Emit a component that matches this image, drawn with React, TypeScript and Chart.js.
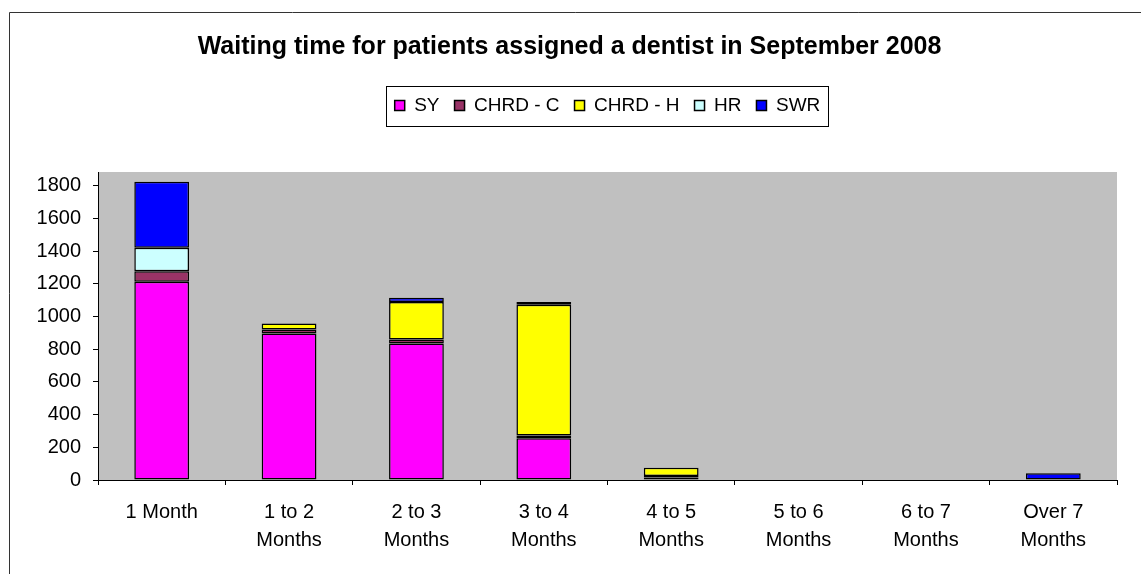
import React, { useEffect, useRef } from "react";
import { Chart, registerables } from "chart.js";

Chart.register(...registerables);

const TITLE = "Waiting time for patients assigned a dentist in September 2008";
const categories: (string | string[])[] = [
  "1 Month",
  ["1 to 2", "Months"],
  ["2 to 3", "Months"],
  ["3 to 4", "Months"],
  ["4 to 5", "Months"],
  ["5 to 6", "Months"],
  ["6 to 7", "Months"],
  ["Over 7", "Months"],
];
const seriesNames = ["SY", "CHRD - C", "CHRD - H", "HR", "SWR"];
const syValues = [1213, 896, 836, 255, 15, 0, 0, 0];
const chrdCValues = [64, 25, 24, 18, 10, 0, 0, 0];
const chrdHValues = [0, 37, 230, 800, 50, 0, 0, 0];
const hrValues = [144, 0, 0, 0, 0, 0, 0, 0];
const swrValues = [405, 0, 25, 17, 0, 0, 0, 42];
const seriesColors = ["#FF00FF", "#993366", "#FFFF00", "#CCFFFF", "#0000FF"];
const yTicks = [0, 200, 400, 600, 800, 1000, 1200, 1400, 1600, 1800];
const yMax = 1885;

const FONT = "'Liberation Sans', Arial, sans-serif";

export default function App() {
  const ref = useRef<HTMLCanvasElement | null>(null);
  useEffect(() => {
    if (!ref.current) return;
    const allValues = [syValues, chrdCValues, chrdHValues, hrValues, swrValues];
    const bgPlugin = {
      id: "bgPlugin",
      beforeDraw(chart: any) {
        const { ctx, chartArea } = chart;
        ctx.save();
        ctx.fillStyle = "#C0C0C0";
        ctx.fillRect(chartArea.left, chartArea.top, chartArea.right - chartArea.left, chartArea.bottom - chartArea.top);
        ctx.restore();
      },
      afterDraw(chart: any) {
        const { ctx } = chart;
        ctx.save();
        ctx.strokeStyle = "#333";
        ctx.lineWidth = 1;
        ctx.beginPath();
        ctx.moveTo(9.5, 574);
        ctx.lineTo(9.5, 12.5);
        ctx.lineTo(1141, 12.5);
        ctx.stroke();
        const lg = chart.legend;
        const hb = lg && lg.legendHitBoxes;
        if (hb && hb.length) {
          const first = hb[0];
          const last = hb[hb.length - 1];
          const l = Math.round(first.left - 9) + 0.5;
          const r = Math.round(last.left + last.width + 8) + 0.5;
          const t = Math.round(first.top - 10) + 0.5;
          const b = Math.round(first.top + first.height + 11) + 0.5;
          ctx.strokeStyle = "#000";
          ctx.strokeRect(l, t, r - l, b - t);
        }
        ctx.restore();
      },
    };
    const chart = new Chart(ref.current, {
      type: "bar",
      data: {
        labels: categories,
        datasets: seriesNames.map((name, i) => ({
          label: name,
          data: allValues[i].map((v) => (v === 0 ? null : v)),
          backgroundColor: seriesColors[i],
          borderColor: "#000",
          borderWidth: 1.5,
          borderSkipped: false,
          barPercentage: 0.43,
          categoryPercentage: 1,
        })),
      },
      options: {
        animation: false,
        responsive: false,
        devicePixelRatio: 1,
        layout: { padding: { top: 12, left: 22, right: 24, bottom: 0 } },
        plugins: {
          title: {
            display: true,
            text: TITLE,
            color: "#000",
            font: { family: FONT, size: 25, weight: "bold", lineHeight: 1.2 },
            padding: { top: 20.5, bottom: 18.5 },
          },
          legend: {
            display: true,
            fullSize: false,
            labels: {
              color: "#000",
              font: { family: FONT, size: 19 },
              boxWidth: 10,
              boxHeight: 10,
              padding: 15,
            },
          },
          subtitle: {
            display: true,
            text: "",
            fullSize: false,
            weight: 500,
            font: { size: 10, lineHeight: 1.2 },
            padding: { top: 35, bottom: 0 },
          } as any,
          tooltip: { enabled: false },
        },
        scales: {
          x: {
            stacked: true,
            grid: { display: true, drawOnChartArea: false, drawTicks: true, tickLength: 5, color: "#000", offset: true },
            border: { display: true, color: "#000", width: 1 },
            ticks: {
              color: "#000",
              font: { family: FONT, size: 20, lineHeight: 1.4 },
              padding: 13,
              maxRotation: 0,
              autoSkip: false,
            },
            afterFit(scale: any) {
              scale.height = 94;
            },
          },
          y: {
            stacked: true,
            min: 0,
            max: yMax,
            grid: { display: true, drawOnChartArea: false, drawTicks: true, tickLength: 5, color: "#000" },
            border: { display: true, color: "#000", width: 1 },
            ticks: {
              color: "#000",
              font: { family: FONT, size: 20 },
              padding: 12,
              stepSize: 200,
              callback: (v: any) => String(v),
            },
            afterBuildTicks(scale: any) {
              scale.ticks = yTicks.map((v) => ({ value: v }));
            },
            afterFit(scale: any) {
              scale.width = 76;
            },
          },
        },
      },
      plugins: [bgPlugin],
    });
    return () => chart.destroy();
  }, []);
  return (
    <div style={{ position: "absolute", left: 0, top: 0, width: 1141, height: 574, background: "#fff" }}>
      <canvas ref={ref} width={1141} height={574} style={{ display: "block" }} />
    </div>
  );
}
